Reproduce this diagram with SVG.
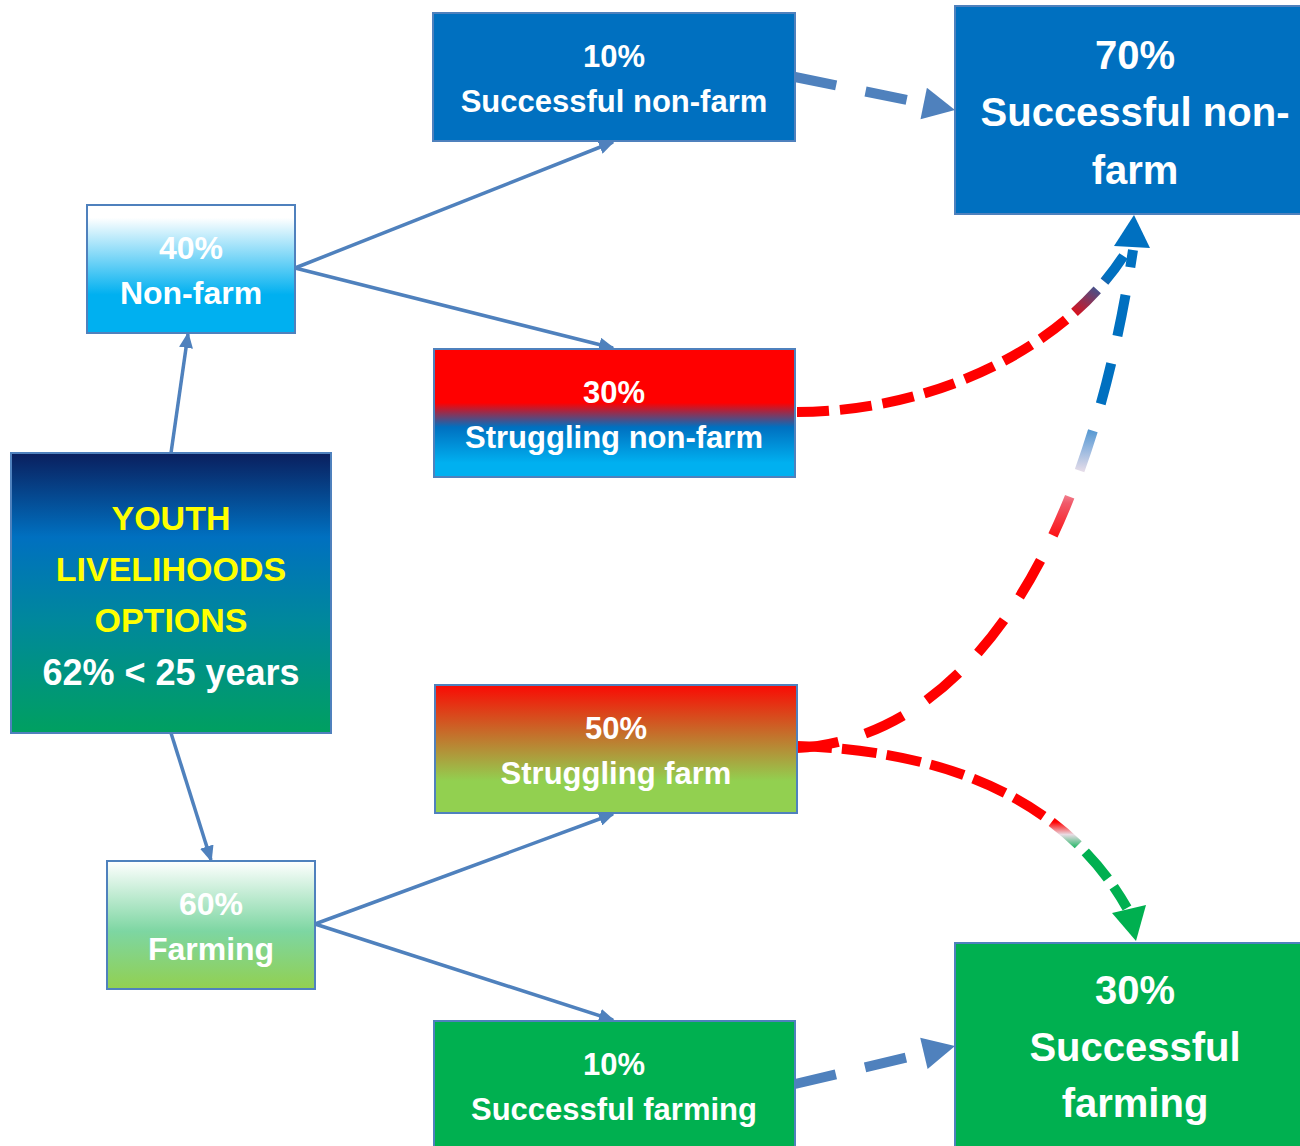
<svg xmlns="http://www.w3.org/2000/svg" width="1300" height="1146" viewBox="0 0 1300 1146">
<defs>
<style>
.box{stroke:#4F81BD;stroke-width:2}
.t{font-family:"Liberation Sans",Arial,sans-serif;font-weight:bold;fill:#fff;text-anchor:middle}
.y{fill:#FFFF00}
.m{font-size:31px}
.s{font-size:32px}
.b{font-size:40px}
.solid{fill:none;stroke:#4F81BD;stroke-width:3.5;marker-end:url(#ah)}
.dash{fill:none;stroke-width:10}
</style>
<marker id="ah" markerUnits="userSpaceOnUse" markerWidth="16" markerHeight="14" refX="14" refY="7" orient="auto">
<path d="M0,0 L16,7 L0,14 Z" fill="#4F81BD"/>
</marker>
<linearGradient id="gYouth" x1="0" y1="0" x2="0" y2="1">
<stop offset="0" stop-color="#0A1F5E"/>
<stop offset="0.3" stop-color="#0070C0"/>
<stop offset="0.6" stop-color="#00889C"/>
<stop offset="1" stop-color="#00A060"/>
</linearGradient>
<linearGradient id="gNon" x1="0" y1="0" x2="0" y2="1">
<stop offset="0" stop-color="#FFFFFF"/>
<stop offset="0.1" stop-color="#FFFFFF"/>
<stop offset="0.7" stop-color="#00B0F0"/>
<stop offset="1" stop-color="#00B0F0"/>
</linearGradient>
<linearGradient id="gFarm" x1="0" y1="0" x2="0" y2="1">
<stop offset="0" stop-color="#FFFFFF"/>
<stop offset="0.55" stop-color="#7DD6A2"/>
<stop offset="1" stop-color="#92D050"/>
</linearGradient>
<linearGradient id="gSNF" x1="0" y1="0" x2="0" y2="1">
<stop offset="0" stop-color="#FF0000"/>
<stop offset="0.42" stop-color="#FF0000"/>
<stop offset="0.61" stop-color="#0070C0"/>
<stop offset="0.89" stop-color="#00B0F0"/>
<stop offset="1" stop-color="#00B0F0"/>
</linearGradient>
<linearGradient id="gSF" x1="0" y1="0" x2="0" y2="1">
<stop offset="0" stop-color="#FA0A04"/>
<stop offset="0.75" stop-color="#92D050"/>
<stop offset="1" stop-color="#92D050"/>
</linearGradient>
<linearGradient id="sA" gradientUnits="userSpaceOnUse" x1="1072" y1="322" x2="1105" y2="275">
<stop offset="0" stop-color="#FF0000"/>
<stop offset="1" stop-color="#0070C0"/>
</linearGradient>
<linearGradient id="sB" gradientUnits="userSpaceOnUse" x1="0" y1="545" x2="0" y2="405">
<stop offset="0" stop-color="#FF0000"/>
<stop offset="0.3" stop-color="#F05A6A"/>
<stop offset="0.5" stop-color="#F2E2EA"/>
<stop offset="0.7" stop-color="#8FB4DE"/>
<stop offset="1" stop-color="#0070C0"/>
</linearGradient>
<linearGradient id="sC" gradientUnits="userSpaceOnUse" x1="0" y1="822" x2="0" y2="850">
<stop offset="0" stop-color="#FF0000"/>
<stop offset="0.45" stop-color="#E8DCE4"/>
<stop offset="1" stop-color="#00B050"/>
</linearGradient>
</defs>

<g id="connectors">
<path class="solid" d="M171,453 L188,334"/>
<path class="solid" d="M171,733 L211,860"/>
<path class="solid" d="M295,268 L613,142"/>
<path class="solid" d="M295,268 L613,348"/>
<path class="solid" d="M315,924 L613,814"/>
<path class="solid" d="M315,924 L613,1020"/>
<path class="dash" stroke="#4F81BD" stroke-dasharray="42 30" d="M795,77 L924,103.5"/>
<polygon fill="#4F81BD" points="955,110 926.9,87.8 920.5,119.2"/>
<path class="dash" stroke="#4F81BD" stroke-dasharray="42 30" d="M795,1084 L924,1053.4"/>
<polygon fill="#4F81BD" points="955,1046 920.2,1037.8 927.6,1069"/>
<path class="dash" stroke="url(#sA)" stroke-dasharray="32 11" d="M797,412 C930,412 1065,350 1126,252"/>
<path class="dash" stroke="url(#sB)" stroke-dasharray="42 28" d="M797,748 C940,740 1080,600 1133,250"/>
<polygon fill="#0070C0" points="1134,215 1114,246 1150,248"/>
<path class="dash" stroke="url(#sC)" stroke-dasharray="35 10" d="M797,746 C930,750 1060,790 1127,908"/>
<polygon fill="#00B050" points="1136,941 1112,913 1146,905"/>
</g>

<g id="youth">
<rect class="box" x="11" y="453" width="320" height="280" fill="url(#gYouth)"/>
<text class="t y" x="171" y="530" font-size="34">YOUTH</text>
<text class="t y" x="171" y="581" font-size="34">LIVELIHOODS</text>
<text class="t y" x="171" y="632" font-size="34">OPTIONS</text>
<text class="t" x="171" y="685" font-size="36">62% &lt; 25 years</text>
</g>

<g id="nonfarm">
<rect class="box" x="87" y="205" width="208" height="128" fill="url(#gNon)"/>
<text class="t s" x="191" y="259">40%</text>
<text class="t s" x="191" y="304">Non-farm</text>
</g>

<g id="farming">
<rect class="box" x="107" y="861" width="208" height="128" fill="url(#gFarm)"/>
<text class="t s" x="211" y="915">60%</text>
<text class="t s" x="211" y="960">Farming</text>
</g>

<g id="succ-nonfarm-10">
<rect class="box" x="433" y="13" width="362" height="128" fill="#0070C0"/>
<text class="t m" x="614" y="67">10%</text>
<text class="t m" x="614" y="112">Successful non-farm</text>
</g>

<g id="strug-nonfarm-30">
<rect class="box" x="434" y="349" width="361" height="128" fill="url(#gSNF)"/>
<text class="t m" x="614" y="403">30%</text>
<text class="t m" x="614" y="448">Struggling non-farm</text>
</g>

<g id="strug-farm-50">
<rect class="box" x="435" y="685" width="362" height="128" fill="url(#gSF)"/>
<text class="t m" x="616" y="739">50%</text>
<text class="t m" x="616" y="784">Struggling farm</text>
</g>

<g id="succ-farm-10">
<rect class="box" x="434" y="1021" width="361" height="130" fill="#00B050"/>
<text class="t m" x="614" y="1075">10%</text>
<text class="t m" x="614" y="1120">Successful farming</text>
</g>

<g id="succ-nonfarm-70">
<rect class="box" x="955" y="6" width="350" height="208" fill="#0070C0"/>
<text class="t b" x="1135" y="69">70%</text>
<text class="t b" x="1135" y="126">Successful non-</text>
<text class="t b" x="1135" y="184">farm</text>
</g>

<g id="succ-farm-30">
<rect class="box" x="955" y="943" width="350" height="210" fill="#00B050"/>
<text class="t b" x="1135" y="1004">30%</text>
<text class="t b" x="1135" y="1061">Successful</text>
<text class="t b" x="1135" y="1117">farming</text>
</g>
</svg>
